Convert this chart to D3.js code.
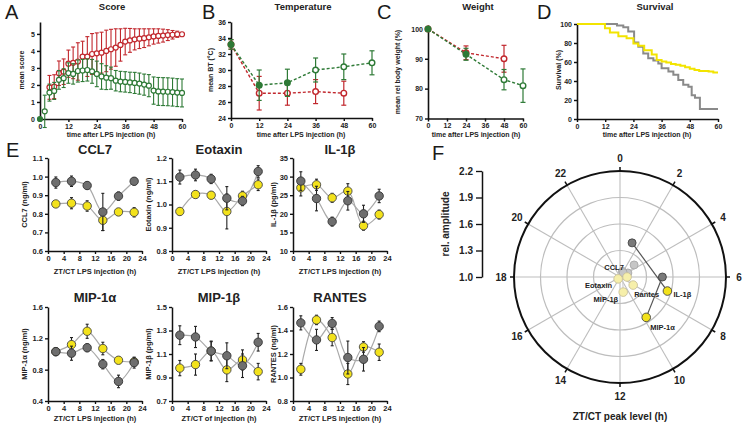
<!DOCTYPE html>
<html><head><meta charset="utf-8">
<script src="https://cdn.jsdelivr.net/npm/d3@7"></script>
<style>body{margin:0;background:#fff}svg{display:block}</style>
</head><body><svg id="c" width="746" height="425"></svg>
<script>
// ---------------- DATA ----------------
// A: Score
const scoreRedT   = [4,6,8,10,12,14,16,18,20,22,24,26,28,30,32,34,36,38,40,42,44,46,48,50,52,54,56,58,60];
const scoreRed    = [1.86,1.9,2.69,2.78,3.25,3.3,3.38,3.67,3.67,3.82,3.86,3.9,4.0,4.1,4.2,4.35,4.55,4.62,4.68,4.72,4.75,4.8,4.85,4.88,4.9,4.93,4.95,4.98,4.98];
const scoreRedErr = [0.7,0.7,0.72,0.75,0.8,0.93,1.1,0.9,1.17,1.2,1.2,1.2,1.22,1.17,1.1,0.95,0.78,0.7,0.62,0.58,0.55,0.5,0.45,0.42,0.38,0.32,0.25,0.18,0.1];
const scoreGreenT   = [0,2,4,6,8,10,12,14,16,18,20,22,24,26,28,30,32,34,36,38,40,42,44,46,48,50,52,54,56,58,60];
const scoreGreen    = [0,0.45,1.55,1.65,2.3,2.4,2.7,2.65,2.82,2.85,2.88,2.8,2.65,2.5,2.43,2.4,2.25,2.2,2.18,2.15,2.12,2.08,2.02,1.96,1.67,1.62,1.61,1.6,1.58,1.55,1.53];
const scoreGreenErr = [0,0.95,0.5,0.5,0.55,0.55,0.6,0.6,0.65,0.65,0.65,0.7,0.75,0.75,0.7,0.65,0.6,0.6,0.6,0.6,0.62,0.62,0.62,0.65,0.8,0.82,0.82,0.82,0.82,0.82,0.82];
const timeTicks = [0,12,24,36,48,60];
const scoreTicks = [0,1,2,3,4,5];
// B: Temperature
const tempRedT = [0,12,24,36,48];
const tempRed = [33.2,27.1,27.1,27.3,27.1];
const tempRedErr = [0.6,2.1,1.5,1.5,1.5];
const tempGreenT = [0,12,24,36,48,60];
const tempGreen = [33.2,28.1,28.4,30.0,30.4,30.9];
const tempGreenErr = [0.6,1.9,1.7,1.5,1.6,1.5];
const tempTicks = [24,26,28,30,32,34,36];
// C: Weight
const weightRedT = [0,24,48];
const weightRed = [100,92,90];
const weightRedErr = [0,2.3,4.5];
const weightGreenT = [0,24,48,60];
const weightGreen = [100,91.5,83,81];
const weightGreenErr = [0,2,3.4,5.6];
const weightTicks = [70,80,90,100];
// D: Survival
const survGrayT = [0,17,19.7,21.8,24.3,26.1,28.2,30.3,32.5,34.6,36,38.9,41,43.1,45.2,47.4,48.8,50.2,52.3,60];
const survGray  = [100,98.5,96.5,92,80.5,76,69,64,61.5,58.5,53.5,50,46.5,41,36,34,25,22.5,10.5,10.5];
const survYellowT = [0,11.9,14,17.6,21.1,24,26,28.6,31.8,33.9,36,38,40,42,44,46,48,50,52,56,58,60];
const survYellow  = [100,95.5,91,87,85,79.5,77,72.5,68,62,60.5,59.5,58,57,56,54.5,53,51.5,50.5,50,49,49];
const survTicks = [0,20,40,60,80,100];
// E: cytokines
const hoursE = [2,6,10,14,18,22];
const ztTicks = [0,4,8,12,16,20,24];
const ccl7Gray = [0.968,0.975,0.952,0.81,0.895,0.975], ccl7GrayErr = [0.03,0.028,0.02,0.1,0.022,0.02];
const ccl7Yellow = [0.853,0.857,0.842,0.765,0.81,0.808], ccl7YellowErr = [0.015,0.03,0.028,0.055,0.012,0.025];
const eotGray = [1.118,1.127,1.11,1.027,1.015,1.142], eotGrayErr = [0.03,0.025,0.02,0.05,0.02,0.025];
const eotYellow = [0.97,1.043,1.04,0.97,1.037,1.085], eotYellowErr = [0.015,0.015,0.015,0.075,0.02,0.025];
const il1Gray = [28.8,24.1,17.9,23.5,20.0,24.8], il1GrayErr = [2.5,3.3,1.2,2.5,2.3,1.8];
const il1Yellow = [27.0,27.8,24.3,26.1,16.8,19.8], il1YellowErr = [2.2,1.5,1.2,2.0,1.2,1.2];
const mip1aGray = [1.03,1.01,1.08,0.87,0.65,0.89], mip1aGrayErr = [0.05,0.09,0.05,0.06,0.08,0.07];
const mip1aYellow = [1.03,1.12,1.29,1.07,0.92,0.9], mip1aYellowErr = [0.04,0.09,0.09,0.08,0.04,0.05];
const mip1bGray = [1.26,1.245,1.125,1.085,1.0,1.2], mip1bGrayErr = [0.08,0.09,0.085,0.11,0.1,0.075];
const mip1bYellow = [0.98,1.01,1.125,0.965,1.05,0.95], mip1bYellowErr = [0.065,0.09,0.08,0.1,0.085,0.07];
const rantesGray = [1.465,1.32,1.46,1.17,1.155,1.435], rantesGrayErr = [0.06,0.09,0.05,0.14,0.1,0.045];
const rantesYellow = [1.07,1.49,1.34,1.03,1.26,1.215], rantesYellowErr = [0.05,0.04,0.07,0.09,0.045,0.07];
// F: polar phase plot
const fNames = ["CCL7","Eotaxin","IL-1β","MIP-1α","MIP-1β","Rantes"];
const fGrayPeak = [3.3,4.2,1.3,6.0,1.5,2.5];
const fGrayAmp = [1.21,1.10,1.41,1.48,1.07,1.06];
const fYellowPeak = [6.0,15.0,7.1,9.8,11.2,8.1];
const fYellowAmp = [1.08,1.03,1.56,1.545,1.175,1.175];
const fSignif = [false,false,true,true,false,false];
const fHourTicks = [0,2,4,6,8,10,12,14,16,18,20,22];
const fAmpTicks = [1.0,1.3,1.6,1.9,2.2];

// ---------------- DRAWING ----------------
const FONT = '"Liberation Sans", Arial, Helvetica, sans-serif';
const svg = d3.select("#c").attr("font-family", FONT);
const RED = "#c1272d", GREEN = "#2e7a36", GREY_PT = "#6e6e6e", YEL = "#f3e21b";

function styleAxis(g, fs, sw) {
  g.select(".domain").attr("stroke", "#111").attr("stroke-width", sw);
  g.selectAll(".tick line").attr("stroke", "#111").attr("stroke-width", sw * 0.9);
  g.selectAll(".tick text").attr("font-size", fs).attr("font-weight", "bold").attr("fill", "#222").attr("font-family", FONT);
}
function txt(x, y, s, o = {}) {
  const t = svg.append("text").attr("x", x).attr("y", y).text(s)
    .attr("font-size", o.size || 8).attr("font-weight", o.weight || "bold")
    .attr("fill", o.fill || "#222").attr("text-anchor", o.anchor || "middle");
  if (o.rot) t.attr("transform", `rotate(-90,${x},${y})`).attr("dominant-baseline", "middle");
  return t;
}
function letter(x, y, s) { txt(x, y, s, {size: 20, weight: "normal", anchor: "start", fill: "#1a1a1a"}); }
function errBars(g, ts, vs, es, x, y, color, cap, sw) {
  ts.forEach((t, i) => {
    if (!es[i]) return;
    const xx = x(t), y1 = y(vs[i] - es[i]), y2 = y(vs[i] + es[i]);
    g.append("line").attr("x1", xx).attr("x2", xx).attr("y1", y1).attr("y2", y2).attr("stroke", color).attr("stroke-width", sw);
    [y1, y2].forEach(yy => g.append("line").attr("x1", xx - cap).attr("x2", xx + cap).attr("y1", yy).attr("y2", yy).attr("stroke", color).attr("stroke-width", sw));
  });
}
function timeAxes(x, y, yTicks, fmt, x0, yBottom) {
  const gx = svg.append("g").attr("transform", `translate(0,${yBottom})`)
    .call(d3.axisBottom(x).tickValues(timeTicks).tickSize(3).tickSizeOuter(0).tickPadding(2));
  styleAxis(gx, 7, 1.6);
  const gy = svg.append("g").attr("transform", `translate(${x0},0)`)
    .call(d3.axisLeft(y).tickValues(yTicks).tickFormat(fmt).tickSize(3).tickSizeOuter(0).tickPadding(2));
  styleAxis(gy, 7, 1.6);
}

// ---- A: Score
{
  const x = d3.scaleLinear([0, 60], [40, 182]);
  const y = d3.scaleLinear([0, 5.7], [119, 22]);
  timeAxes(x, y, scoreTicks, d3.format("d"), 40, 119);
  const g = svg.append("g");
  errBars(g, scoreRedT, scoreRed, scoreRedErr, x, y, RED, 2, 1.1);
  g.selectAll(".r").data(scoreRedT).join("circle").attr("cx", d => x(d)).attr("cy", (d, i) => y(scoreRed[i]))
    .attr("r", 2.5).attr("fill", "#fff").attr("stroke", RED).attr("stroke-width", 1.2);
  errBars(g, scoreGreenT, scoreGreen, scoreGreenErr, x, y, GREEN, 2, 1.1);
  g.selectAll(".gcirc").data(scoreGreenT).join("circle").attr("cx", d => x(d)).attr("cy", (d, i) => y(scoreGreen[i]))
    .attr("r", 2.5).attr("fill", (d, i) => i === 0 ? GREEN : "#fff").attr("stroke", GREEN).attr("stroke-width", 1.2);
  txt(112, 10, "Score", {size: 9.5});
  txt(111, 137, "time after LPS injection (h)", {size: 7});
  txt(22, 70, "mean score", {size: 7, rot: true});
  letter(5, 19, "A");
}
// ---- B/C generic dashed panel
function dashedPanel(x, y, ticks, fmt, x0, yb, redT, red, redE, grT, gr, grE, filledUpTo) {
  timeAxes(x, y, ticks, fmt, x0, yb);
  const g = svg.append("g");
  const line = (ts, vs) => d3.line().x((d, i) => x(ts[i])).y(d => y(d))(vs);
  g.append("path").attr("d", line(redT, red)).attr("fill", "none").attr("stroke", RED).attr("stroke-width", 1.4).attr("stroke-dasharray", "3,2");
  g.append("path").attr("d", line(grT, gr)).attr("fill", "none").attr("stroke", GREEN).attr("stroke-width", 1.4).attr("stroke-dasharray", "3,2");
  errBars(g, redT, red, redE, x, y, RED, 2.5, 1.2);
  g.selectAll(".r").data(redT).join("circle").attr("cx", d => x(d)).attr("cy", (d, i) => y(red[i]))
    .attr("r", 2.8).attr("fill", "#fff").attr("stroke", RED).attr("stroke-width", 1.4);
  errBars(g, grT, gr, grE, x, y, GREEN, 2.5, 1.2);
  g.selectAll(".g").data(grT).join("circle").attr("cx", d => x(d)).attr("cy", (d, i) => y(gr[i]))
    .attr("r", 2.8).attr("fill", d => d <= filledUpTo ? GREEN : "#fff").attr("stroke", GREEN).attr("stroke-width", 1.4);
}
{
  const x = d3.scaleLinear([0, 60], [231, 372]);
  const y = d3.scaleLinear([24, 36], [118, 22]);
  dashedPanel(x, y, tempTicks, d3.format("d"), 231, 118, tempRedT, tempRed, tempRedErr, tempGreenT, tempGreen, tempGreenErr, 24);
  txt(303, 10, "Temperature", {size: 9.5});
  txt(301, 137, "time after LPS injection (h)", {size: 7});
  txt(211, 70, "mean BT (°C)", {size: 7, rot: true});
  letter(202, 19, "B");
}
{
  const x = d3.scaleLinear([0, 60], [428, 523]);
  const y = d3.scaleLinear([70, 101.3], [118.5, 25]);
  dashedPanel(x, y, weightTicks, d3.format("d"), 428, 118.5, weightRedT, weightRed, weightRedErr, weightGreenT, weightGreen, weightGreenErr, 24);
  txt(478, 10, "Weight", {size: 9.5});
  txt(476, 137, "time after LPS injection (h)", {size: 7});
  txt(398, 72, "mean rel body weight (%)", {size: 7, rot: true});
  letter(377, 19, "C");
}
// ---- D: Survival
{
  const x = d3.scaleLinear([0, 60], [577, 718]);
  const y = d3.scaleLinear([0, 100], [119, 24]);
  timeAxes(x, y, survTicks, d3.format("d"), 577, 119);
  const step = (ts, vs) => d3.line().curve(d3.curveStepAfter).x((d, i) => x(ts[i])).y(d => y(d))(vs);
  svg.append("path").attr("d", step(survGrayT, survGray)).attr("fill", "none").attr("stroke", "#8a8a8a").attr("stroke-width", 2);
  svg.append("path").attr("d", step(survYellowT, survYellow)).attr("fill", "none").attr("stroke", "#f2e400").attr("stroke-width", 2);
  txt(655, 10, "Survival", {size: 9.5});
  txt(647, 137, "time after LPS injection (h)", {size: 7});
  txt(559, 70, "Survival (%)", {size: 7, rot: true});
  letter(537, 19, "D");
}
// ---- E: cytokine panels
const ePanels = [
  {title: "CCL7", ylab: "CCL7 (ng/ml)", xlab: "ZT/CT LPS injection (h)", dom: [0.6, 1.1], ticks: [0.6,0.7,0.8,0.9,1.0,1.1], fmt: ".1f", g: ccl7Gray, ge: ccl7GrayErr, yv: ccl7Yellow, ye: ccl7YellowErr, x0: 48, row: 0},
  {title: "Eotaxin", ylab: "Eotaxin (ng/ml)", xlab: "ZT/CT LPS injection (h)", dom: [0.8, 1.2], ticks: [0.8,0.9,1.0,1.1,1.2], fmt: ".1f", g: eotGray, ge: eotGrayErr, yv: eotYellow, ye: eotYellowErr, x0: 172, row: 0},
  {title: "IL-1β", ylab: "IL-1β (pg/ml)", xlab: "ZT/CT LPS injection (h)", dom: [10, 35], ticks: [10,15,20,25,30,35], fmt: "d", g: il1Gray, ge: il1GrayErr, yv: il1Yellow, ye: il1YellowErr, x0: 293, row: 0},
  {title: "MIP-1α", ylab: "MIP-1α (ng/ml)", xlab: "ZT/CT LPS injection (h)", dom: [0.4, 1.6], ticks: [0.4,0.8,1.2,1.6], fmt: ".1f", g: mip1aGray, ge: mip1aGrayErr, yv: mip1aYellow, ye: mip1aYellowErr, x0: 48, row: 1},
  {title: "MIP-1β", ylab: "MIP-1β (pg/ml)", xlab: "ZT/CT of injection (h)", dom: [0.7, 1.5], ticks: [0.7,0.9,1.1,1.3,1.5], fmt: ".1f", g: mip1bGray, ge: mip1bGrayErr, yv: mip1bYellow, ye: mip1bYellowErr, x0: 172, row: 1},
  {title: "RANTES", ylab: "RANTES (ng/ml)", xlab: "ZT/CT LPS injection (h)", dom: [0.8, 1.6], ticks: [0.8,1.0,1.2,1.4,1.6], fmt: ".1f", g: rantesGray, ge: rantesGrayErr, yv: rantesYellow, ye: rantesYellowErr, x0: 293, row: 1},
];
ePanels.forEach(p => {
  const top = p.row === 0 ? 158 : 307, bot = p.row === 0 ? 251 : 401;
  const x = d3.scaleLinear([0, 24], [p.x0, p.x0 + 94]);
  const y = d3.scaleLinear(p.dom, [bot, top]);
  const gx = svg.append("g").attr("transform", `translate(0,${bot})`)
    .call(d3.axisBottom(x).tickValues(ztTicks).tickSize(3).tickSizeOuter(0).tickPadding(2));
  styleAxis(gx, 7.5, 1.5);
  const gy = svg.append("g").attr("transform", `translate(${p.x0},0)`)
    .call(d3.axisLeft(y).tickValues(p.ticks).tickFormat(d3.format(p.fmt)).tickSize(3).tickSizeOuter(0).tickPadding(2));
  styleAxis(gy, 7.5, 1.5);
  const g = svg.append("g");
  const curve = vs => d3.line().curve(d3.curveCatmullRom.alpha(0.5)).x((d, i) => x(hoursE[i])).y(d => y(d))(vs);
  g.append("path").attr("d", curve(p.g)).attr("fill", "none").attr("stroke", "#a9a9a9").attr("stroke-width", 1.2);
  g.append("path").attr("d", curve(p.yv)).attr("fill", "none").attr("stroke", "#a9a9a9").attr("stroke-width", 1.2);
  errBars(g, hoursE, p.yv, p.ye, x, y, "#222", 1.5, 1.1);
  g.selectAll(".yc").data(hoursE).join("circle").attr("cx", d => x(d)).attr("cy", (d, i) => y(p.yv[i]))
    .attr("r", 4.2).attr("fill", YEL).attr("stroke", "#444").attr("stroke-width", 0.9);
  errBars(g, hoursE, p.g, p.ge, x, y, "#222", 1.5, 1.1);
  g.selectAll(".gc").data(hoursE).join("circle").attr("cx", d => x(d)).attr("cy", (d, i) => y(p.g[i]))
    .attr("r", 4.2).attr("fill", GREY_PT).attr("stroke", "#333").attr("stroke-width", 0.9);
  const cx = p.x0 + 47;
  txt(cx, p.row === 0 ? 154 : 302, p.title, {size: 13});
  txt(cx, p.row === 0 ? 274 : 421, p.xlab, {size: 7.5});
  txt(p.x0 - (p.x0 === 293 ? 19 : 23), (top + bot) / 2, p.ylab, {size: 7.5, rot: true});
});
letter(6, 157, "E");

// ---- F: polar
{
  const cx = 620, cy = 277, R = 106;
  const r = d3.scaleLinear([1.0, 2.2], [0, R]);
  const ang = h => h / 24 * 2 * Math.PI;
  const pt = (h, a) => { const p = d3.pointRadial(ang(h), r(a)); return [cx + p[0], cy + p[1]]; };
  const g = svg.append("g");
  fHourTicks.forEach(h => {
    const p = d3.pointRadial(ang(h), R);
    g.append("line").attr("x1", cx).attr("y1", cy).attr("x2", cx + p[0]).attr("y2", cy + p[1]).attr("stroke", "#bdbdbd").attr("stroke-width", 1.1);
  });
  fAmpTicks.slice(1, -1).forEach(a => g.append("circle").attr("cx", cx).attr("cy", cy).attr("r", r(a)).attr("fill", "none").attr("stroke", "#bdbdbd").attr("stroke-width", 1.2));
  g.append("circle").attr("cx", cx).attr("cy", cy).attr("r", R).attr("fill", "none").attr("stroke", "#111").attr("stroke-width", 2);
  fHourTicks.forEach(h => {
    const p1 = d3.pointRadial(ang(h), R), p2 = d3.pointRadial(ang(h), R + 4), pl = d3.pointRadial(ang(h), R + 13);
    g.append("line").attr("x1", cx + p1[0]).attr("y1", cy + p1[1]).attr("x2", cx + p2[0]).attr("y2", cy + p2[1]).attr("stroke", "#111").attr("stroke-width", 1.5);
    txt(cx + pl[0], cy + pl[1] + 3.5, String(h), {size: 10});
  });
  // connecting lines
  fNames.forEach((n, i) => {
    const a = pt(fGrayPeak[i], fGrayAmp[i]), b = pt(fYellowPeak[i], fYellowAmp[i]);
    g.append("line").attr("x1", a[0]).attr("y1", a[1]).attr("x2", b[0]).attr("y2", b[1])
      .attr("stroke", fSignif[i] ? "#555" : "#cfcfcf").attr("stroke-width", 1.2);
  });
  // non-significant first, then significant
  const order = d3.range(fNames.length).sort((a, b) => fSignif[a] - fSignif[b]);
  order.forEach(i => {
    const a = pt(fGrayPeak[i], fGrayAmp[i]);
    g.append("circle").attr("cx", a[0]).attr("cy", a[1]).attr("r", 4)
      .attr("fill", fSignif[i] ? "#7a7a7a" : "#c6c6c6").attr("stroke", fSignif[i] ? "#444" : "#a8a8a8").attr("stroke-width", 0.9);
  });
  order.forEach(i => {
    const b = pt(fYellowPeak[i], fYellowAmp[i]);
    g.append("circle").attr("cx", b[0]).attr("cy", b[1]).attr("r", 4.3)
      .attr("fill", fSignif[i] ? YEL : "#f6efaa").attr("stroke", fSignif[i] ? "#444" : "#c9c19a").attr("stroke-width", 0.9);
  });
  const labOff = {"CCL7": [-13, -7, "middle"], "Eotaxin": [-6, 9, "end"], "MIP-1β": [-5, 10, "end"], "Rantes": [1, 12, "start"], "IL-1β": [6, 6, "start"], "MIP-1α": [4, 13, "start"]};
  fNames.forEach((n, i) => {
    const b = pt(fYellowPeak[i], fYellowAmp[i]), o = labOff[n];
    txt(b[0] + o[0], b[1] + o[1], n, {size: 7.5, anchor: o[2]});
  });
  // amplitude axis
  const ya = d3.scaleLinear([1.0, 2.2], [cy, cy - R]);
  const gy = svg.append("g").attr("transform", "translate(482,0)")
    .call(d3.axisLeft(ya).tickValues(fAmpTicks).tickFormat(d3.format(".1f")).tickSize(6).tickSizeOuter(0).tickPadding(3));
  styleAxis(gy, 10, 1.5);
  txt(446, 224, "rel. amplitude", {size: 10, rot: true});
  txt(cx, 420, "ZT/CT peak level (h)", {size: 10});
  letter(432, 160, "F");
}
</script></body></html>
